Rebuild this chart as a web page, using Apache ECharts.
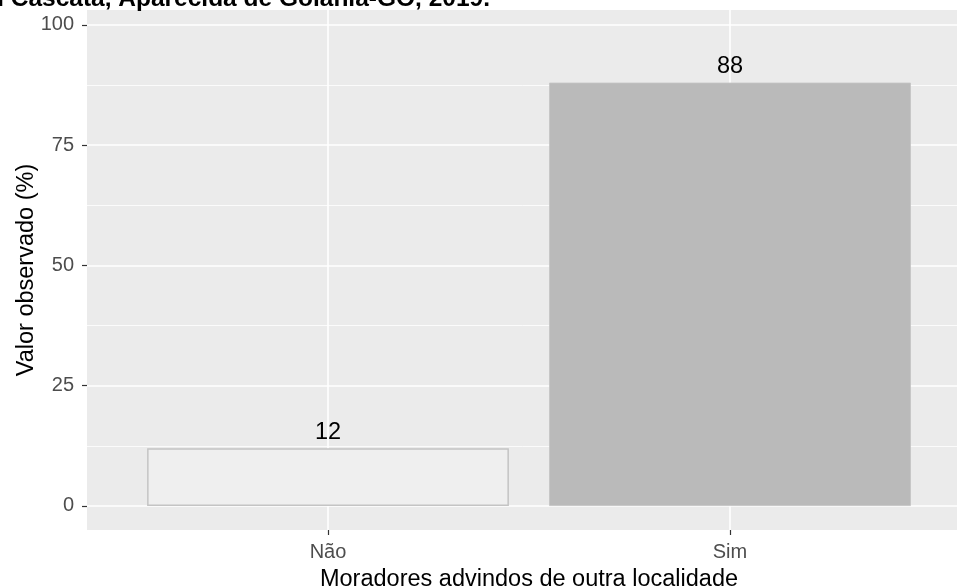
<!DOCTYPE html>
<html>
<head>
<meta charset="utf-8">
<script src="https://cdn.jsdelivr.net/npm/echarts@6/dist/echarts.min.js"></script>
<style>html,body{margin:0;padding:0;background:#fff}#c{width:957px;height:588px}</style>
</head>
<body>
<div id="c"></div>
<script>
const categories = ['Não', 'Sim'];
const values = [12, 88];
const yTicks = [0, 25, 50, 75, 100];
const yMinor = [12.5, 37.5, 62.5, 87.5];
const titleText = 'Jardim Cascata, Aparecida de Goiânia-GO, 2019.';
const xTitle = 'Moradores advindos de outra localidade';
const yTitle = 'Valor observado (%)';
const barFills = ['#EFEFEF', '#BABABA'];

const chart = echarts.init(document.getElementById('c'), null, {renderer: 'canvas'});
const font = 'Liberation Sans, Arial, sans-serif';
const Y_MIN = -5, Y_MAX = 103.1;

const hLines = [];
yTicks.forEach(v => hLines.push({yAxis: v, lineStyle: {width: 1.6}}));
yMinor.forEach(v => hLines.push({yAxis: v, lineStyle: {width: 0.8}}));
const vLines = categories.map(c => ({xAxis: c, lineStyle: {width: 1.6}}));

chart.setOption({
  animation: false,
  title: {
    text: titleText,
    right: 462,
    top: -18,
    textStyle: {fontFamily: font, fontWeight: 'bold', fontSize: 24.5, color: '#000'}
  },
  grid: [
    {left: 127, top: 10, width: 804, height: 520, show: false, containLabel: false, outerBoundsMode: 'none'},
    {left: 87, top: 10, width: 884, height: 520, show: true, backgroundColor: '#EBEBEB', borderWidth: 0, z: 0, containLabel: false, outerBoundsMode: 'none'}
  ],
  xAxis: [{
    type: 'category',
    gridIndex: 0,
    position: 'bottom',
    data: categories,
    axisLine: {show: false, onZero: false},
    axisTick: {show: true, alignWithLabel: true, length: 5, lineStyle: {color: '#333', width: 1.2}},
    axisLabel: {margin: 12, color: '#4D4D4D', fontSize: 20, fontFamily: font},
    splitLine: {show: false},
    name: xTitle,
    nameLocation: 'middle',
    nameGap: 38,
    nameMoveOverlap: false,
    nameTextStyle: {color: '#000', fontSize: 23.5, fontFamily: font}
  }, {
    type: 'value',
    gridIndex: 1,
    min: 0, max: 1,
    show: false
  }],
  yAxis: [{
    type: 'value',
    gridIndex: 0,
    min: Y_MIN,
    max: Y_MAX,
    offset: 40,
    axisLine: {show: false},
    axisTick: {show: true, length: 5, customValues: yTicks, lineStyle: {color: '#333', width: 1.2}},
    axisLabel: {margin: 13, color: '#4D4D4D', fontSize: 20, fontFamily: font, customValues: yTicks},
    splitLine: {show: false},
    name: yTitle,
    nameLocation: 'middle',
    nameGap: 48,
    nameMoveOverlap: false,
    nameTextStyle: {color: '#000', fontSize: 23.5, fontFamily: font}
  }, {
    type: 'value',
    gridIndex: 1,
    min: Y_MIN,
    max: Y_MAX,
    show: false
  }],
  series: [
    {
      type: 'line',
      xAxisIndex: 1,
      yAxisIndex: 1,
      z: 1,
      data: [],
      symbol: 'none',
      silent: true,
      markLine: {
        silent: true,
        symbol: ['none', 'none'],
        label: {show: false},
        z: 1,
        lineStyle: {color: '#FFFFFF', type: 'solid'},
        data: hLines
      }
    },
    {
      type: 'line',
      xAxisIndex: 0,
      yAxisIndex: 0,
      z: 1,
      data: categories.map(() => null),
      symbol: 'none',
      silent: true,
      markLine: {
        silent: true,
        symbol: ['none', 'none'],
        label: {show: false},
        z: 1,
        lineStyle: {color: '#FFFFFF', type: 'solid'},
        data: vLines
      }
    },
    {
      type: 'bar',
      xAxisIndex: 0,
      yAxisIndex: 0,
      z: 3,
      barWidth: '90%',
      data: values.map((v, i) => ({
        value: v,
        itemStyle: {color: barFills[i], borderColor: '#C4C4C4', borderWidth: i === 0 ? 1.5 : 0.8}
      })),
      label: {show: true, position: 'top', distance: 4, color: '#000', fontSize: 23.5, fontFamily: font}
    }
  ]
});
</script>
</body>
</html>
